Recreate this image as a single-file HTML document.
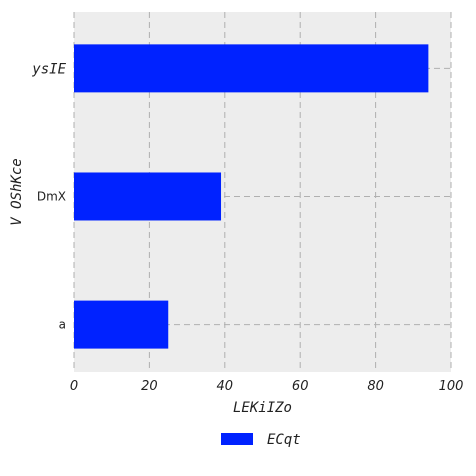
<!DOCTYPE html>
<html><head><meta charset="utf-8"><style>
body{margin:0;background:#fff;width:476px;height:476px;overflow:hidden}
svg{display:block}
.m{font-family:"DejaVu Sans Mono","Liberation Mono",monospace;font-style:italic}
.s{font-family:"DejaVu Sans","Liberation Sans",sans-serif}
.si{font-family:"DejaVu Sans","Liberation Sans",sans-serif;font-style:italic}
</style></head><body>
<svg id="c" width="476" height="476"></svg>
<script>
const categories=["a","DmX","ysIE"];
const values=[25,39,94];
const xTicks=[0,20,40,60,80,100];
const catItalic=[false,false,true];
const NS="http://www.w3.org/2000/svg";
const svg=document.getElementById('c');
const L=74,R=451,T=12,B=372;
const xs=v=>L+(v-0)/(100-0)*(R-L);
const yMin=-0.37,yMax=2.44;
const yc=i=>B-(i-yMin)/(yMax-yMin)*(B-T);
function mk(t,a,p){const e=document.createElementNS(NS,t);for(const k in a)e.setAttribute(k,a[k]);(p||svg).appendChild(e);return e;}
const bg=mk('rect',{x:L,y:T,width:R-L,height:B-T,fill:'#ededed'});


xTicks.forEach(t=>{
  const g=mk('line',{x1:xs(t),x2:xs(t),y1:T,y2:B,stroke:'#b0b0b0','stroke-dasharray':'6,4','stroke-width':1});
  
  
  const tx=mk('text',{x:xs(t),y:B+18,'text-anchor':'middle','font-size':13,fill:'#222',class:'si'});
  tx.textContent=t;
  
  
});
categories.forEach((c,i)=>{
  const g=mk('line',{x1:L,x2:R,y1:yc(i),y2:yc(i),stroke:'#b0b0b0','stroke-dasharray':'6,4','stroke-width':1});
  
  
});
categories.forEach((c,i)=>{
  const bh=48;
  const r=mk('rect',{x:L,y:yc(i)-bh/2,width:xs(values[i])-L,height:bh,fill:'#0022ff'});
  
  
  const tx=mk('text',{x:L-8,y:yc(i)+(catItalic[i]?5:4),'text-anchor':'end','font-size':catItalic[i]?14:12,fill:'#222',class:catItalic[i]?'m':'s'});
  tx.textContent=c;
  
  
});
const xt=mk('text',{x:(L+R)/2,y:412,'text-anchor':'middle','font-size':14,fill:'#222',class:'m'});
xt.textContent='LEKiIZo';


const yt=mk('text',{x:0,y:0,'text-anchor':'middle','font-size':14,fill:'#222',class:'m',transform:'translate(21,192) rotate(-90)'});
yt.textContent='V OShKce';


const lg=mk('g',{});


mk('rect',{x:221,y:433,width:32,height:12,fill:'#0022ff'},lg);
const lt=mk('text',{x:267,y:444,'font-size':14,fill:'#222',class:'m'},lg);
lt.textContent='ECqt';
</script>
</body></html>
